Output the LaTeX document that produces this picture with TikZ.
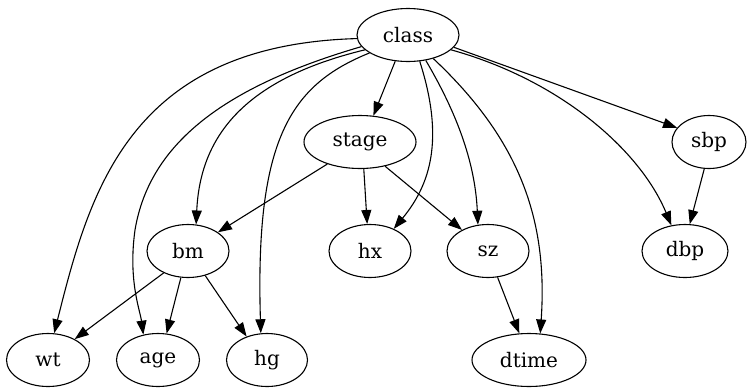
\documentclass[tikz,border=0pt]{standalone}
\usepackage{fontspec}
\setmainfont{DejaVu Serif}
\usetikzlibrary{shapes.geometric,arrows.meta}
\begin{document}
\begin{tikzpicture}[x=1pt,y=-1pt,
  nd/.style={draw,ellipse,line width=1.1pt,inner sep=0pt,minimum height=53pt,font=\fontsize{20}{24}\selectfont},
  e/.style={line width=1.1pt,-{Triangle[length=14pt,width=10pt]}}]
\useasboundingbox (0,0) rectangle (747,389);
\node[nd,minimum width=102pt] (class) at (408,35) {class};
\node[nd,minimum width=112pt] (stage) at (360,142) {stage};
\node[nd,minimum width=74pt] (sbp) at (709,142) {sbp};
\node[nd,minimum width=82pt] (bm) at (188,251) {bm};
\node[nd,minimum width=82pt] (hx) at (370,251) {hx};
\node[nd,minimum width=82pt] (sz) at (488,251) {sz};
\node[nd,minimum width=86pt] (dbp) at (685,251) {dbp};
\node[nd,minimum width=83pt] (wt) at (48,360) {wt};
\node[nd,minimum width=83pt] (age) at (158,360) {age};
\node[nd,minimum width=81pt] (hg) at (267,360) {hg};
\node[nd,minimum width=114pt] (dtime) at (529,360) {dtime};
% edges from class
\draw[e] (class.244) -- (stage.63);
\draw[e] (class.345) -- (sbp.156);
\draw[e] (class.184) .. controls (130,45) and (90,190) .. (wt.77);
\draw[e] (class.194) .. controls (230,85) and (150,140) .. (135,230) .. controls (128,280) and (140,310) .. (age.120);
\draw[e] (class.199) .. controls (240,80) and (200,140) .. (bm.73);
\draw[e] (class.205) .. controls (290,85) and (255,140) .. (hg.103);
\draw[e] (class.294) .. controls (445,140) and (430,185) .. (hx.43);
\draw[e] (class.305) .. controls (455,110) and (475,160) .. (sz.111);
\draw[e] (class.317) .. controls (520,140) and (548,220) .. (dtime.67);
\draw[e] (class.341) .. controls (560,80) and (640,150) .. (dbp.118);
% other edges
\draw[e] (stage.214) -- (bm.32);
\draw[e] (stage.278) -- (hx.96);
\draw[e] (stage.316) -- (sz.141);
\draw[e] (sbp.260) -- (dbp.80);
\draw[e] (bm.222) -- (wt.38);
\draw[e] (bm.255) -- (age.72);
\draw[e] (bm.305) -- (hg.131);
\draw[e] (sz.290) -- (dtime.110);
\end{tikzpicture}
\end{document}
